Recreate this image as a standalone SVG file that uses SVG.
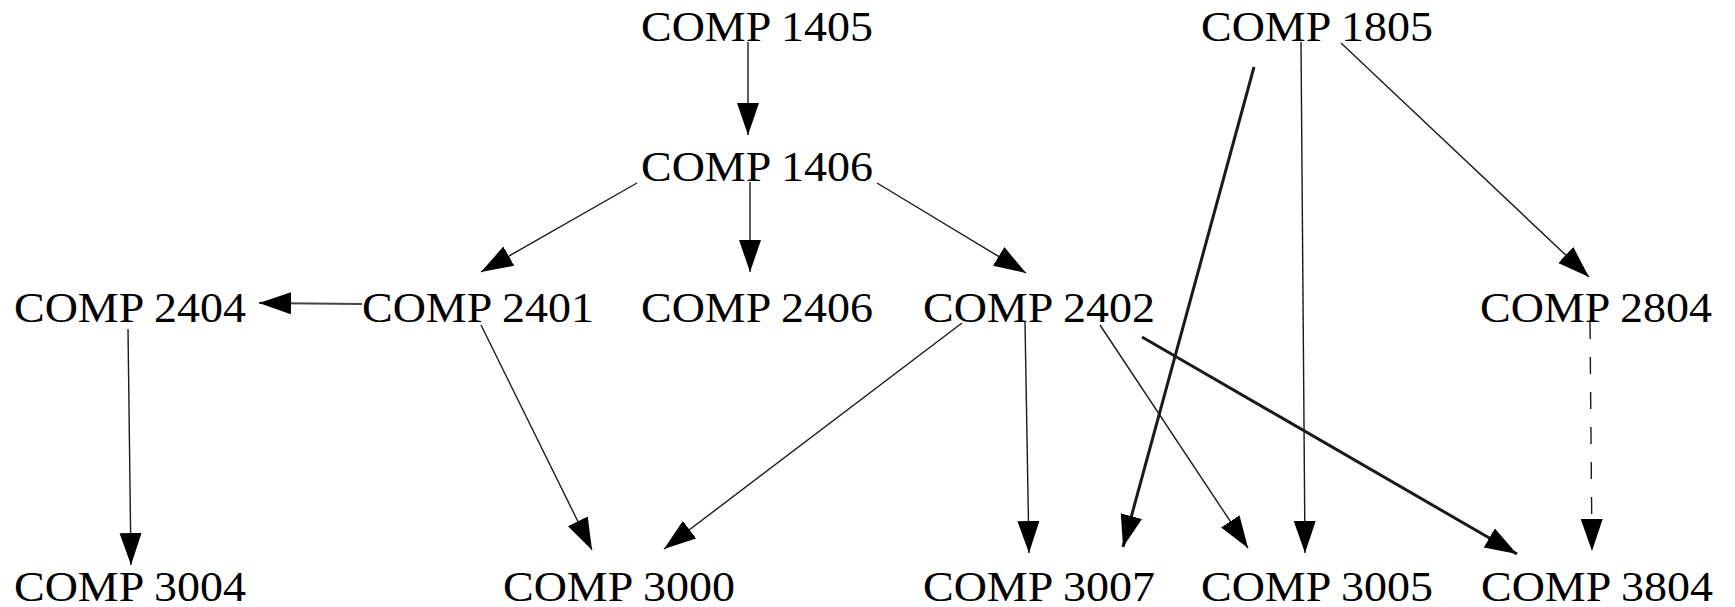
<svg xmlns="http://www.w3.org/2000/svg" width="1735" height="607" viewBox="0 0 1735 607">
<style>
.n text{font-family:"Liberation Serif","Times New Roman",serif;font-size:42px;fill:#000;text-anchor:middle}
.e{stroke:#1a1a1a;stroke-width:1.4;fill:none;marker-end:url(#ah)}
.t{stroke-width:3}
.d{stroke-dasharray:17 18}
</style>
<defs>
<marker id="ah" markerUnits="userSpaceOnUse" markerWidth="34" markerHeight="24" refX="32" refY="11" orient="auto" viewBox="0 0 34 24">
<path d="M0,0 L32,11 L0,22 z" fill="#000"/>
</marker>
</defs>
<rect width="1735" height="607" fill="#fff"/>
<g id="connectors">
<line class="e" x1="748" y1="42" x2="748" y2="135"/>
<line class="e" x1="750" y1="182" x2="750" y2="272"/>
<line class="e" x1="637" y1="183" x2="481" y2="272"/>
<line class="e" x1="877" y1="183" x2="1026" y2="273"/>
<line class="e" x1="362" y1="304" x2="259" y2="303" style="stroke-width:2;stroke:#444"/>
<line class="e" x1="128" y1="329" x2="131" y2="565"/>
<line class="e" x1="481" y1="325" x2="592" y2="550"/>
<line class="e" x1="962" y1="323" x2="664" y2="549"/>
<line class="e" x1="1025" y1="322" x2="1029" y2="553"/>
<line class="e" x1="1100" y1="325" x2="1248" y2="548"/>
<line class="e t" x1="1142" y1="337" x2="1517" y2="554"/>
<line class="e t" x1="1254" y1="67" x2="1123" y2="547"/>
<line class="e" x1="1301" y1="42" x2="1305" y2="553"/>
<line class="e" x1="1341" y1="43" x2="1589" y2="277"/>
<line class="e d" x1="1590" y1="322" x2="1592" y2="551"/>
</g>
<g id="COMP1405" class="n"><text x="757" y="41" textLength="232" lengthAdjust="spacingAndGlyphs">COMP 1405</text></g>
<g id="COMP1805" class="n"><text x="1317" y="41" textLength="232" lengthAdjust="spacingAndGlyphs">COMP 1805</text></g>
<g id="COMP1406" class="n"><text x="757" y="181" textLength="232" lengthAdjust="spacingAndGlyphs">COMP 1406</text></g>
<g id="COMP2404" class="n"><text x="130" y="322" textLength="232" lengthAdjust="spacingAndGlyphs">COMP 2404</text></g>
<g id="COMP2401" class="n"><text x="478" y="322" textLength="232" lengthAdjust="spacingAndGlyphs">COMP 2401</text></g>
<g id="COMP2406" class="n"><text x="757" y="322" textLength="232" lengthAdjust="spacingAndGlyphs">COMP 2406</text></g>
<g id="COMP2402" class="n"><text x="1039" y="322" textLength="232" lengthAdjust="spacingAndGlyphs">COMP 2402</text></g>
<g id="COMP2804" class="n"><text x="1596" y="322" textLength="232" lengthAdjust="spacingAndGlyphs">COMP 2804</text></g>
<g id="COMP3004" class="n"><text x="130" y="601" textLength="232" lengthAdjust="spacingAndGlyphs">COMP 3004</text></g>
<g id="COMP3000" class="n"><text x="619" y="601" textLength="232" lengthAdjust="spacingAndGlyphs">COMP 3000</text></g>
<g id="COMP3007" class="n"><text x="1039" y="601" textLength="232" lengthAdjust="spacingAndGlyphs">COMP 3007</text></g>
<g id="COMP3005" class="n"><text x="1317" y="601" textLength="232" lengthAdjust="spacingAndGlyphs">COMP 3005</text></g>
<g id="COMP3804" class="n"><text x="1597" y="601" textLength="232" lengthAdjust="spacingAndGlyphs">COMP 3804</text></g>
</svg>
